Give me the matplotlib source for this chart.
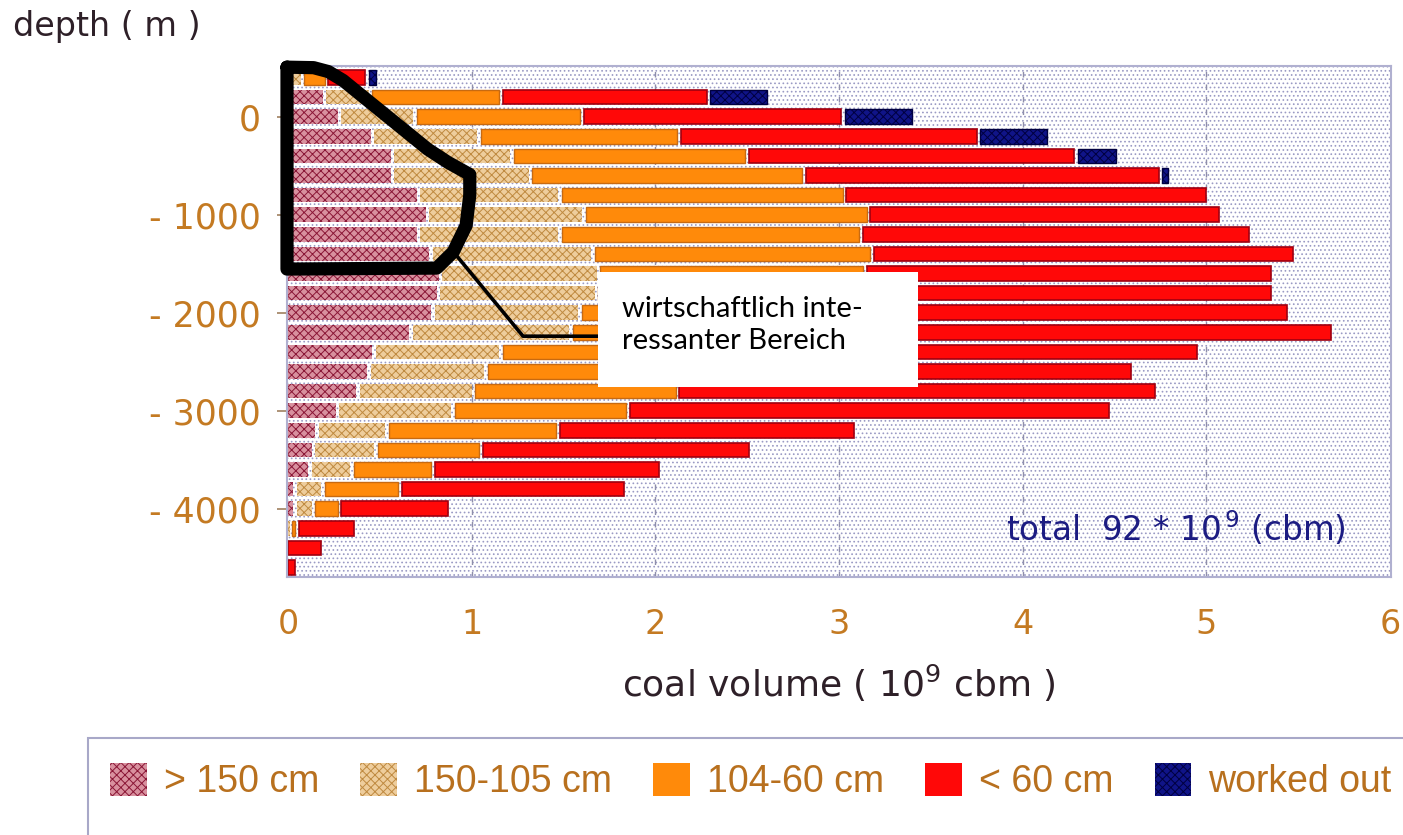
import numpy as np
import matplotlib
matplotlib.use("Agg")
import matplotlib.pyplot as plt
import matplotlib.patches as mpatches

# ── Data (coal volume in 10^9 cbm per 200 m depth slice) ──────────────────────
depth = [400, 200, 0, -200, -400, -600, -800, -1000, -1200, -1400, -1600,
         -1800, -2000, -2200, -2400, -2600, -2800, -3000, -3200, -3400,
         -3600, -3800, -4000, -4200, -4400, -4600]

seam_gt150 = [0.00, 0.21, 0.29, 0.47, 0.58, 0.58, 0.72, 0.77, 0.72, 0.79, 0.84,
              0.83, 0.80, 0.68, 0.48, 0.45, 0.39, 0.28, 0.17, 0.15, 0.13, 0.05,
              0.05, 0.00, 0.00, 0.00]
seam_150_105 = [0.09, 0.25, 0.41, 0.58, 0.65, 0.75, 0.77, 0.85, 0.77, 0.88, 0.86,
                0.86, 0.80, 0.87, 0.69, 0.64, 0.63, 0.63, 0.38, 0.34, 0.23, 0.15,
                0.10, 0.02, 0.00, 0.00]
seam_104_60 = [0.13, 0.71, 0.91, 1.09, 1.28, 1.49, 1.55, 1.55, 1.64, 1.52, 1.45,
               1.40, 1.43, 1.35, 1.32, 1.18, 1.11, 0.95, 0.93, 0.57, 0.44, 0.42,
               0.14, 0.04, 0.00, 0.00]
seam_lt60 = [0.22, 1.13, 1.42, 1.63, 1.79, 1.94, 1.98, 1.92, 2.12, 2.30, 2.22,
             2.28, 2.43, 2.80, 2.48, 2.34, 2.61, 2.63, 1.62, 1.47, 1.24, 1.23,
             0.60, 0.32, 0.20, 0.06]
worked_out = [0.06, 0.33, 0.39, 0.38, 0.23, 0.05, 0, 0, 0, 0, 0, 0, 0, 0, 0, 0,
              0, 0, 0, 0, 0, 0, 0, 0, 0, 0]

labels = ["> 150 cm", "150-105 cm", "104-60 cm", "< 60 cm", "worked out"]
ytick_vals = [0, -1000, -2000, -3000, -4000]
ytick_labels = ["0", "- 1000", "- 2000", "- 3000", "- 4000"]
xtick_vals = [0, 1, 2, 3, 4, 5, 6]

# hand-drawn highlight outline and callout (data coords: volume, depth)
outline_x = [-0.005, 0.14, 0.22, 0.30, 0.53, 0.76, 0.87, 0.99, 0.99, 0.97, 0.90, 0.81, -0.005, -0.005]
outline_y = [505, 500, 460, 370, 20, -330, -465, -590, -800, -1110, -1380, -1545, -1555, 505]
callout_x = [0.91, 1.28, 1.71]
callout_y = [-1400, -2240, -2240]

# ── Style ─────────────────────────────────────────────────────────────────────
TICK_COL = "#c47a22"
styles = [
    dict(color="#d8909e", edgecolor="#8a1636", hatch="xxxx", lw=0),
    dict(color="#eecd9c", edgecolor="#bf8a40", hatch="xxxx", lw=0),
    dict(color="#ff8a0a", edgecolor="#c86a10", hatch=None, lw=1.0),
    dict(color="#ff0808", edgecolor="#a00010", hatch=None, lw=1.2),
    dict(color="#101488", edgecolor="#000040", hatch="xxxx", lw=1.0),
]
GAP = 0.02
plt.rcParams["hatch.linewidth"] = 0.7

fig = plt.figure(figsize=(14.03, 8.35), dpi=100)
W, H = 1403, 835
ax = fig.add_axes([287 / W, 1 - 577 / H, (1391 - 287) / W, (577 - 66) / H])
ax.set_xlim(-0.005, 6.005)
ax.set_ylim(-4697, 517)

# stippled plot background
ax.add_patch(mpatches.Rectangle((0, 0), 1, 1, transform=ax.transAxes,
                                facecolor="white", edgecolor="#9a9ac4",
                                hatch="....", lw=0, zorder=0))
for xv in [1, 2, 3, 4, 5]:
    ax.axvline(xv, color="#8e8eaa", lw=1.0, ls=(0, (4, 5)), zorder=0.5)

series = [seam_gt150, seam_150_105, seam_104_60, seam_lt60, worked_out]
left = np.zeros(len(depth))
for vals, st in zip(series, styles):
    v = np.array(vals, dtype=float)
    w = np.where(v > 0, np.maximum(v - GAP, v * 0.5), 0)
    mask = v > 0
    ax.barh(np.array(depth)[mask], w[mask], left=left[mask], height=150,
            color=st["color"], edgecolor=st["edgecolor"], hatch=st["hatch"],
            linewidth=st["lw"], zorder=2)
    left += v

for sp in ax.spines.values():
    sp.set_color("#b0b0d0")
    sp.set_linewidth(1.5)

ax.set_yticks(ytick_vals)
ax.set_yticklabels(ytick_labels)
ax.set_xticks(xtick_vals)
ax.set_xticklabels([str(v) for v in xtick_vals])
ax.tick_params(axis="y", length=7, width=1.2, color="#a08060", pad=12,
               labelsize=25, labelcolor=TICK_COL)
ax.tick_params(axis="x", length=0, pad=22, labelsize=24, labelcolor=TICK_COL)

# highlight outline + callout
ax.plot(outline_x, outline_y, color="black", lw=9.5, solid_joinstyle="round",
        solid_capstyle="round", clip_on=False, zorder=5)
ax.plot(callout_x, callout_y, color="black", lw=2.6, zorder=5)
ax.add_patch(mpatches.Rectangle((1.688, -2758), 1.742, 1173, facecolor="white",
                                edgecolor="none", zorder=6))
ax.text(1.82, -1830, "wirtschaftlich inte-\nressanter Bereich", family="Lato",
        fontsize=21, va="top", ha="left", linespacing=1.3, zorder=7)

ax.text(5.76, -4330, "total  92 * 10$^{\\,9}$ (cbm)", color="#1c1c82",
        fontsize=23.5, ha="right", va="baseline", zorder=3)

fig.text(13 / W, 1 - 36 / H, "depth ( m )", fontsize=24, color="#2e2028",
         va="baseline")
fig.text(839 / W, 1 - 697 / H, "coal volume ( 10$^9$ cbm )", fontsize=26,
         color="#2e2028", ha="center", va="baseline")

# legend frame (runs off the figure edge) and entries
fig.patches.append(mpatches.Rectangle((88 / W, -0.1), 1.2, 0.1 + 1 - 738 / H,
                                      transform=fig.transFigure, fill=False,
                                      edgecolor="#a8a8c8", lw=1.5))
handles = [mpatches.Patch(facecolor=st["color"], edgecolor=st["edgecolor"],
                          hatch=st["hatch"], lw=0, label=lab)
           for st, lab in zip(styles, labels)]
leg = fig.legend(handles=handles, loc="upper left",
                 bbox_to_anchor=(110 / W, 1 - 763 / H), ncol=5, frameon=False,
                 prop={"family": "Liberation Sans", "size": 27},
                 handlelength=0.98, handleheight=0.98, handletextpad=0.45,
                 columnspacing=1.1, borderpad=0, borderaxespad=0)
for t in leg.get_texts():
    t.set_color("#b8701e")

fig.savefig("out.png", dpi=100)
